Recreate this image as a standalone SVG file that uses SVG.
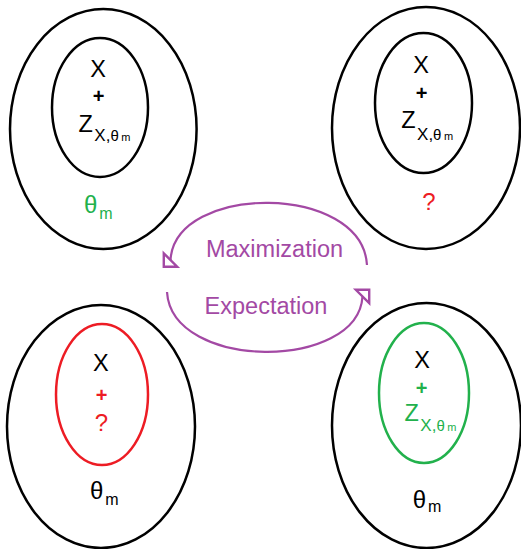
<svg xmlns="http://www.w3.org/2000/svg" width="521" height="549" viewBox="0 0 521 549">
<style>
.outer{fill:none;stroke:#000;stroke-width:2.5}
.inner{fill:none;stroke:#000;stroke-width:2.5}
.red{stroke:#ED1C24}
.green{stroke:#22B14C}
text{font-family:"Liberation Sans",Arial,sans-serif;fill:#000}
.big{font-size:23.5px}
.plus{font-size:20px;font-weight:bold}
.tR{fill:#ED1C24}
.tG{fill:#22B14C}
.lbl{font-size:23.5px;fill:#A349A4}
.arc{fill:none;stroke:#A349A4;stroke-width:2.2}
</style>
<defs>
<marker id="openL" markerUnits="userSpaceOnUse" overflow="visible" refX="0" refY="0" markerWidth="12" markerHeight="20" orient="135">
<path d="M9.5,0 L0,-9.5 L0,9.5 Z" fill="#fff" stroke="#A349A4" stroke-width="2.4"/>
</marker>
<marker id="openR" markerUnits="userSpaceOnUse" overflow="visible" refX="0" refY="0" markerWidth="12" markerHeight="20" orient="-45">
<path d="M9.5,0 L0,-9.5 L0,9.5 Z" fill="#fff" stroke="#A349A4" stroke-width="2.4"/>
</marker>
</defs>
<rect width="521" height="549" fill="#fff"/>

<g id="connectors">
<path class="arc" d="M367,265 C362,183 175,183 170.5,260" marker-end="url(#openL)"/>
<path class="arc" d="M167,292 C172,371 358,371 362.5,296.5" marker-end="url(#openR)"/>
<text class="lbl" x="274.5" y="257" text-anchor="middle">Maximization</text>
<text class="lbl" x="266" y="314" text-anchor="middle">Expectation</text>
</g>

<g id="node-top-left">
<ellipse class="outer" cx="103.3" cy="129" rx="93.3" ry="120"/>
<ellipse class="inner" cx="100" cy="107.5" rx="48" ry="69.5"/>
<text class="big" x="98.2" y="77.3" text-anchor="middle">X</text>
<text class="plus" x="98.5" y="103" text-anchor="middle">+</text>
<text class="big" x="78.5" y="131.7">Z<tspan font-size="17" dx="1.5" dy="9">X,</tspan><tspan font-size="15">θ</tspan><tspan font-size="11" dx="2.5">m</tspan></text>
<text class="tG" font-size="24" x="84" y="213">θ<tspan font-size="16" dx="2" dy="6">m</tspan></text>
</g>

<g id="node-top-right">
<ellipse class="outer" cx="426" cy="128" rx="94" ry="121"/>
<ellipse class="inner" cx="423.5" cy="103" rx="48.5" ry="70"/>
<text class="big" x="421" y="73.3" text-anchor="middle">X</text>
<text class="plus" x="421.5" y="100" text-anchor="middle">+</text>
<text class="big" x="401.2" y="128.3">Z<tspan font-size="17" dx="1.5" dy="11.5">X,</tspan><tspan font-size="15">θ</tspan><tspan font-size="11" dx="2.5">m</tspan></text>
<text class="tR" font-size="24" x="429" y="210" text-anchor="middle">?</text>
</g>

<g id="node-bottom-left">
<ellipse class="outer" cx="101" cy="426.5" rx="94" ry="121.5"/>
<ellipse class="inner red" cx="102" cy="394.5" rx="46" ry="70.5"/>
<text class="big" x="100.8" y="371" text-anchor="middle">X</text>
<text class="plus tR" x="101.5" y="401.5" text-anchor="middle">+</text>
<text class="tR" font-size="24" x="101.5" y="430.7" text-anchor="middle">?</text>
<text font-size="24" x="90" y="499">θ<tspan font-size="16" dx="2" dy="6">m</tspan></text>
</g>

<g id="node-bottom-right">
<ellipse class="outer" cx="426.5" cy="425.5" rx="94.5" ry="122.5"/>
<ellipse class="inner green" cx="424" cy="393" rx="45" ry="70"/>
<text class="big" x="422" y="368.3" text-anchor="middle">X</text>
<text class="plus tG" x="421.7" y="395" text-anchor="middle">+</text>
<text class="big tG" x="404.5" y="421">Z<tspan font-size="17" dx="1.5" dy="9.7">X,</tspan><tspan font-size="15">θ</tspan><tspan font-size="11" dx="2.5">m</tspan></text>
<text font-size="24" x="412.7" y="508.3">θ<tspan font-size="16" dx="2" dy="4">m</tspan></text>
</g>
</svg>
